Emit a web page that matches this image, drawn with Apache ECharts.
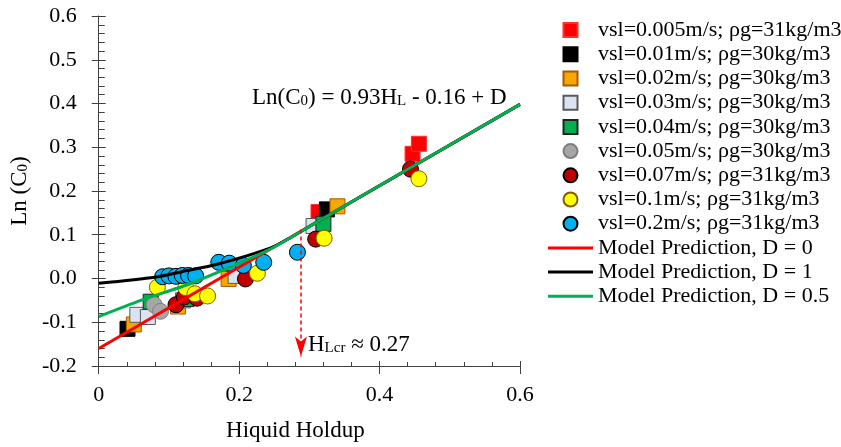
<!DOCTYPE html>
<html>
<head>
<meta charset="utf-8">
<title>Ln(C0) vs liquid holdup</title>
<script src="https://cdn.jsdelivr.net/npm/echarts@6/dist/echarts.min.js"></script>
<style>
  html, body { margin: 0; padding: 0; background: #fff; }
  #chart { width: 841px; height: 447px; }
</style>
</head>
<body>
<div id="chart"></div>
<script>
// 测量点 [Hl, Ln(C0)]
const vsl005 = [[0.313, 0.152], [0.447, 0.285], [0.456, 0.308]]
const vsl01 = [[0.041, -0.115], [0.325, 0.158]]
const vsl02 = [[0.05, -0.105], [0.113, -0.064], [0.185, -0.001], [0.34, 0.165]]
const vsl03 = [[0.055, -0.083], [0.07, -0.088], [0.12, -0.05], [0.195, 0.006], [0.306, 0.12]]
const vsl04 = [[0.074, -0.053], [0.125, -0.047], [0.32, 0.125]]
const vsl05 = [[0.079, -0.06], [0.088, -0.075]]
const vsl07 = [[0.11, -0.06], [0.122, -0.042], [0.14, -0.045], [0.209, -0.001], [0.309, 0.09], [0.444, 0.25]]
const vsl1 = [[0.0835, -0.02], [0.124, -0.021], [0.137, -0.035], [0.155, -0.04], [0.226, 0.012], [0.321, 0.092], [0.456, 0.228]]
const vsl2 = [[0.091, 0.004], [0.1, 0.006], [0.11, 0.005], [0.119, 0.007], [0.128, 0.007], [0.138, 0.006], [0.171, 0.037], [0.186, 0.035], [0.206, 0.03], [0.235, 0.037], [0.283, 0.06]]

// 模型曲线
const modelD0 = [[0, -0.16], [0.6, 0.398]]
const modelD1 = [[0, -0.011], [0.08, 0.003], [0.117, 0.015], [0.17, 0.033], [0.245, 0.07], [0.275, 0.095], [0.3, 0.119], [0.45, 0.259], [0.6, 0.398]]
const modelD05 = [[0, -0.087], [0.06, -0.05], [0.13, -0.012], [0.2, 0.035], [0.25, 0.072], [0.3, 0.119], [0.45, 0.259], [0.6, 0.398]]

// 临界持液率标注
const hlcrX = 0.288
const hlcrTop = 0.112
const hlcrEnd = -0.178

const xTicks = { min: 0, max: 0.6, interval: 0.2 }
const yTicks = { min: -0.2, max: 0.6, interval: 0.1 }

const font = 'Liberation Serif'

// 图例图标 (path 才能保持长宽比)
const squareIcon = 'path://M0,0L10,0L10,10L0,10Z'
const lineIcon = 'path://M0,0L45,0L45,3L0,3Z'

const scatterDefs = [
  { name: 'vsl=0.005m/s; ρg=31kg/m3', data: vsl005, symbol: 'rect', color: '#ff0000', border: '#ff3030' },
  { name: 'vsl=0.01m/s; ρg=30kg/m3', data: vsl01, symbol: 'rect', color: '#000000', border: '#000000' },
  { name: 'vsl=0.02m/s; ρg=30kg/m3', data: vsl02, symbol: 'rect', color: '#f5a800', border: '#a85a00' },
  { name: 'vsl=0.03m/s; ρg=30kg/m3', data: vsl03, symbol: 'rect', color: '#dae3f3', border: '#595959' },
  { name: 'vsl=0.04m/s; ρg=30kg/m3', data: vsl04, symbol: 'rect', color: '#00b050', border: '#222222' },
  { name: 'vsl=0.05m/s; ρg=30kg/m3', data: vsl05, symbol: 'circle', color: '#a6a6a6', border: '#7f7f7f' },
  { name: 'vsl=0.07m/s; ρg=31kg/m3', data: vsl07, symbol: 'circle', color: '#c00000', border: '#000000' },
  { name: 'vsl=0.1m/s; ρg=31kg/m3', data: vsl1, symbol: 'circle', color: '#ffff00', border: '#7f6000' },
  { name: 'vsl=0.2m/s; ρg=31kg/m3', data: vsl2, symbol: 'circle', color: '#00b0f0', border: '#000000' }
]

const lineDefs = [
  { name: 'Model Prediction, D = 0', data: modelD0, color: '#ff0000' },
  { name: 'Model Prediction, D = 1', data: modelD1, color: '#000000' },
  { name: 'Model Prediction, D = 0.5', data: modelD05, color: '#00b050' }
]

const chart = echarts.init(document.getElementById('chart'))

const series = scatterDefs.map(s => {
  return {
    name: s.name,
    type: 'scatter',
    data: s.data,
    symbol: s.symbol,
    symbolSize: s.symbol === 'rect' ? 15 : 16,
    itemStyle: { color: s.color, borderColor: s.border, borderWidth: 1, opacity: 1 }
  }
}).concat(lineDefs.map(l => {
  return {
    name: l.name,
    type: 'line',
    data: l.data,
    symbol: 'none',
    showSymbol: false,
    smooth: l.data.length > 2 ? 0.25 : false,
    lineStyle: { color: l.color, width: 3 },
    itemStyle: { color: l.color }
  }
}))

// 虚线箭头挂在 D=0 曲线上
series[scatterDefs.length].markLine = {
  silent: true,
  symbol: ['none', 'arrow'],
  symbolSize: [9, 20],
  label: { show: false },
  lineStyle: { color: '#ff0000', type: [4, 3], width: 1.5 },
  data: [[{ coord: [hlcrX, hlcrTop] }, { coord: [hlcrX, hlcrEnd] }]]
}

const subRich = {
  m: { fontFamily: font, fontSize: 23, lineHeight: 28, verticalAlign: 'bottom', color: '#000' },
  s: { fontFamily: font, fontSize: 15, lineHeight: 11, verticalAlign: 'bottom', color: '#000' }
}

const option = {
  animation: false,
  textStyle: { fontFamily: font },
  grid: { left: 98, right: 321, top: 16, bottom: 80 },
  legend: {
    orient: 'vertical',
    left: 543,
    top: 13,
    itemWidth: 45,
    itemHeight: 14,
    itemGap: 0,
    symbolKeepAspect: true,
    textStyle: { fontFamily: font, fontSize: 22, lineHeight: 24.2, color: '#000' },
    data: scatterDefs.map(s => ({ name: s.name, icon: s.symbol === 'rect' ? squareIcon : 'circle' }))
      .concat(lineDefs.map(l => ({ name: l.name, icon: lineIcon })))
  },
  xAxis: [
    {
      type: 'value',
      ...xTicks,
      position: 'bottom',
      name: 'Hiquid Holdup',
      nameLocation: 'middle',
      nameGap: 53,
      nameTextStyle: { fontFamily: font, fontSize: 23, color: '#000', padding: [0, 28, 0, 0] },
      axisLine: { show: true, onZero: false, lineStyle: { color: '#404040', width: 1 } },
      axisTick: { show: true, length: 8, lineStyle: { color: '#404040' } },
      axisLabel: { fontFamily: font, fontSize: 22, color: '#000', margin: 18 },
      splitLine: { show: false }
    },
    {
      // 内侧刻度 + 次刻度
      type: 'value',
      ...xTicks,
      position: 'bottom',
      axisLine: { show: false, onZero: false },
      axisTick: { show: true, inside: true, length: 5, lineStyle: { color: '#404040' } },
      minorTick: { show: true, splitNumber: 5, length: 4, lineStyle: { color: '#404040' } },
      axisLabel: { show: false },
      splitLine: { show: false }
    }
  ],
  yAxis: [
    {
      type: 'value',
      ...yTicks,
      position: 'left',
      name: '{m|Ln (C}{s|0}{m|)}',
      nameLocation: 'middle',
      nameGap: 62,
      nameRotate: 90,
      nameTextStyle: { fontFamily: font, fontSize: 23, color: '#000', rich: {
        m: { fontFamily: font, fontSize: 23, lineHeight: 28, verticalAlign: 'bottom', color: '#000' },
        s: { fontFamily: font, fontSize: 15, lineHeight: 11, verticalAlign: 'bottom', color: '#000' }
      } },
      axisLine: { show: true, onZero: false, lineStyle: { color: '#404040', width: 1 } },
      axisTick: { show: true, length: 7, lineStyle: { color: '#404040' } },
      axisLabel: {
        fontFamily: font,
        fontSize: 22,
        color: '#000',
        margin: 22,
        formatter: v => v.toFixed(1)
      },
      splitLine: { show: false }
    },
    {
      type: 'value',
      ...yTicks,
      position: 'left',
      axisLine: { show: false, onZero: false },
      axisTick: { show: true, inside: true, length: 7, lineStyle: { color: '#404040' } },
      minorTick: { show: true, splitNumber: 5, length: 6, lineStyle: { color: '#404040' } },
      axisLabel: { show: false },
      splitLine: { show: false }
    }
  ],
  graphic: [
    {
      type: 'text',
      left: 252,
      top: 86,
      silent: true,
      style: {
        text: '{m|Ln(C}{s|0}{m|) = 0.93H}{s|L}{m| - 0.16 + D}',
        rich: subRich
      }
    },
    {
      type: 'text',
      left: 308,
      top: 333,
      silent: true,
      style: {
        text: '{m|H}{s|Lcr}{m| ≈ 0.27}',
        rich: subRich
      }
    }
  ],
  series: series
}

chart.setOption(option)
</script>
</body>
</html>
